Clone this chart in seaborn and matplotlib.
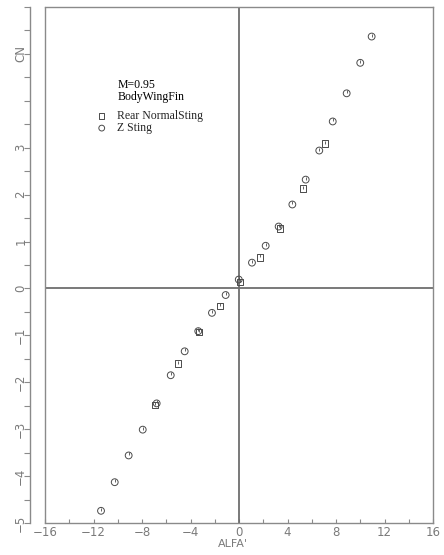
import numpy as np
import pandas as pd
import matplotlib
matplotlib.use("Agg")
import matplotlib.pyplot as plt
import seaborn as sns
from matplotlib.path import Path
from matplotlib.ticker import MultipleLocator, FixedLocator, FixedFormatter

# ----------------------------------------------------------------------
# Data
# ----------------------------------------------------------------------
z_alfa = [-11.38, -10.25, -9.10, -7.94, -6.79, -5.63, -4.48, -3.36, -2.23, -1.10,
          -0.02, 1.07, 2.20, 3.27, 4.40, 5.50, 6.62, 7.73, 8.88, 10.00, 10.94]
z_cn = [-4.74, -4.13, -3.56, -3.01, -2.45, -1.85, -1.34, -0.91, -0.52, -0.14,
        0.19, 0.55, 0.91, 1.32, 1.79, 2.32, 2.94, 3.56, 4.16, 4.81, 5.37]

rear_alfa = [-6.95, -5.03, -3.27, -1.54, 0.06, 1.73, 3.36, 5.25, 7.07]
rear_cn = [-2.49, -1.60, -0.92, -0.37, 0.14, 0.66, 1.28, 2.13, 3.09]

y_ticks = [-5, -4, -3, -2, -1, 0, 1, 2, 3, 4, 5, 6]
y_ticklabels = ["-5", "-4", "-3", "-2", "-1", "0", "1", "2", "3", "", "CN", ""]
x_ticks = [-16, -12, -8, -4, 0, 4, 8, 12, 16]

MARK = "#4a4a4a"
FRAME = "#8a8a8a"
TXT = "#7a7a7a"

sns.set_style("white")
plt.rcParams.update({
    "font.family": ["DejaVu Sans"],
    "axes.edgecolor": FRAME,
    "axes.linewidth": 1.0,
})

df_z = pd.DataFrame({"alfa": z_alfa, "cn": z_cn})
df_r = pd.DataFrame({"alfa": rear_alfa, "cn": rear_cn})

fig = plt.figure(figsize=(4.44, 5.55), dpi=100)
ax = fig.add_axes([45 / 444, 32 / 555, 388 / 444, 516 / 555])

# crosshair at the origin
ax.axvline(0, color="#6e6e6e", lw=1.3, zorder=1)
ax.axhline(0, color="#6e6e6e", lw=1.3, zorder=1)
# left frame line (the y axis itself is pulled outward)
ax.axvline(-16, color=FRAME, lw=1.0, clip_on=False, zorder=1)

sns.scatterplot(data=df_r, x="alfa", y="cn", marker="s", s=20,
                facecolors="none", edgecolor=MARK, linewidth=0.7,
                label="Rear NormalSting", ax=ax, zorder=3)
sns.scatterplot(data=df_z, x="alfa", y="cn", marker="o", s=24,
                facecolors="none", edgecolor=MARK, linewidth=0.7,
                label="Z Sting", ax=ax, zorder=3)
for coll in ax.collections:
    coll.set_facecolor("none")

# little tick inside each symbol, like the plotter glyphs
tick_mark = Path([(0, 0.0), (0, 1.0)], [Path.MOVETO, Path.LINETO])
all_x = np.concatenate([z_alfa, rear_alfa])
all_y = np.concatenate([z_cn, rear_cn])
ax.scatter(all_x, all_y, marker=tick_mark, s=22, c=MARK, linewidths=0.6, zorder=4)

ax.set_xlim(-16, 16)
ax.set_ylim(-5, 6)

# x axis: ticks pointing inward, labels below
ax.xaxis.set_major_locator(FixedLocator(x_ticks))
ax.xaxis.set_minor_locator(MultipleLocator(2))
ax.tick_params(axis="x", which="both", direction="in", length=3, width=0.8,
               color=FRAME, labelsize=8.5, labelcolor=TXT, pad=2, bottom=True)
ax.set_xticklabels([f"\u2212{abs(v)}" if v < 0 else str(v) for v in x_ticks])

# y axis: offset spine, ticks outward, rotated labels
ax.spines["left"].set_position(("outward", 15 * 0.72))
ax.yaxis.set_major_locator(FixedLocator(y_ticks))
ax.yaxis.set_major_formatter(FixedFormatter(
    [t.replace("-", "\u2212") for t in y_ticklabels]))
ax.yaxis.set_minor_locator(MultipleLocator(0.5))
ax.tick_params(axis="y", which="both", direction="out", length=4, width=0.8,
               color=FRAME, labelsize=8.5, labelcolor=TXT, pad=-2, left=True)
for lab in ax.get_yticklabels():
    lab.set_rotation(90)
    lab.set_va("center")

ax.set_xlabel("ALFA'", fontsize=8, color=TXT, va="center")
ax.xaxis.set_label_coords(0.485, -0.041)
ax.set_ylabel("")

ax.text(0.188, 0.86, "M=0.95\nBodyWingFin", transform=ax.transAxes,
        fontsize=8.5, family="Liberation Serif", color="black",
        va="top", ha="left", linespacing=1.0)

ax.legend(loc="upper left", bbox_to_anchor=(0.131, 0.80), frameon=False,
          prop={"family": "Liberation Serif", "size": 8.5},
          handlelength=1.0, handletextpad=0.8, labelspacing=0.0,
          borderpad=0.0, borderaxespad=0.0, markerscale=0.85)

fig.savefig("out.png", dpi=100, facecolor="white")
